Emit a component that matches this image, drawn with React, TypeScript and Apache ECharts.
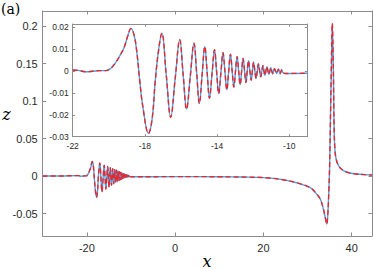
import React, { useEffect, useRef } from "react";
import * as echarts from "echarts";

// ---- tick definitions ----
const mainXTicks = [-20, 0, 20, 40];
const mainZTicks = [-0.05, 0, 0.05, 0.1, 0.15, 0.2];
const mainZTickLabels = ["-0.05", "0", "0.05", "0.1", "0.15", "0.2"];
const insetXTicks = [-22, -18, -14, -10];
const insetZTicks = [-0.03, -0.02, -0.01, 0, 0.01, 0.02];
const insetZTickLabels = ["-0.03", "-0.02", "-0.01", "0", "0.01", "0.02"];

// ---- flat lead-in (main panel only) ----
const leadX = [-30, -26];
const leadZ = [0, 0];

// ---- wave packet (shown in both panels) ----
const packetX = [
  -22, -21.7, -21.3, -20.9, -20.5, -20.15, -19.9, -19.65, -19.4, -19.15, -18.95,
  -18.77, -18.6, -18.45, -18.29, -18.1, -17.8, -17.6, -17.43, -17.25, -17.06,
  -16.815, -16.57, -16.32, -16.07, -15.88, -15.69, -15.485, -15.28, -15.13,
  -14.98, -14.83, -14.68, -14.55, -14.42, -14.28, -14.14, -14.025, -13.91,
  -13.79, -13.67, -13.565, -13.46, -13.36, -13.26, -13.165, -13.07, -12.98,
  -12.89, -12.805, -12.72, -12.64, -12.56, -12.48, -12.4, -12.33, -12.26,
  -12.185, -12.11, -12.045, -11.98, -11.91, -11.84, -11.775, -11.71, -11.645,
  -11.58, -11.52, -11.46, -11.405, -11.35, -11.295, -11.24, -11.185, -11.13,
  -11.075, -11.02, -10.97, -10.92, -10.87, -10.82, -10.765, -10.71, -10.655,
  -10.6, -10.555, -10.51, -10.465, -10.42, -10.35, -10.2, -9.0,
];
const packetZ = [
  0.0005, 0.0003, -0.0003, -0.0001, 0.0002, 0.0002, 0.0012, 0.0035, 0.0068, 0.0108, 0.016,
  0.0195, 0.0165, 0.009, -0.004, -0.017, -0.0285, -0.022, -0.005, 0.009, 0.0173,
  -0.0019, -0.0211, -0.0034, 0.0143, -0.0016, -0.0174, -0.0024, 0.0127, -0.001,
  -0.0148, -0.0018, 0.0112, -0.0007, -0.0125, -0.0014, 0.0097, -0.0003, -0.0103,
  -0.001, 0.0084, -0.0001, -0.0086, -0.0005, 0.0077, 0.0002, -0.0073, -0.0003,
  0.0066, 0.0002, -0.0062, -0.0002, 0.0058, 0.0003, -0.0052, -0.0002, 0.0047,
  0.0002, -0.0042, -0.0001, 0.004, 0.0003, -0.0034, -0.0001, 0.0032, 0.0003,
  -0.0026, -0.0001, 0.0024, 0.0002, -0.002, 0.0, 0.002, 0.0002, -0.0015,
  0.0, 0.0015, 0.0001, -0.0012, -0.0001, 0.0011, 0.0, -0.0011, -0.0001,
  0.0008, -0.0002, -0.0012, -0.0003, 0.0005, -0.0008, -0.0011, -0.001,
];

// ---- tail and solitary wave (main panel only) ----
const tailX = [
  0, 10, 15, 20, 24, 27.5, 30.6, 32.1, 32.9, 33.5, 34.0, 34.34, 34.6, 34.85,
  35.0, 35.2, 35.4, 35.6, 35.85, 36.0, 36.2, 36.5, 37.0, 37.7, 38.5, 39.6, 41, 43, 44.6,
];
const tailZ = [
  -0.0008, -0.001, -0.0014, -0.0021, -0.0045, -0.009, -0.0155, -0.0244, -0.031, -0.042, -0.055, -0.064, -0.05, -0.015,
  0.013, 0.08, 0.147, 0.2035, 0.14, 0.07, 0.035, 0.022, 0.014, 0.009, 0.006, 0.004, 0.0027, 0.0018, 0.0013,
];

const BLUE = "#4ba4e0";
const RED = "#e8262f";
const AXIS = "#8c8c8c";
const TXT = "#2a2a2a";
const FONT = "Liberation Sans";
const SERIF = "DejaVu Serif";

function pick(labels: string[], ticks: number[], v: number) {
  let best = 0;
  for (let i = 1; i < ticks.length; i++) {
    if (Math.abs(ticks[i] - v) < Math.abs(ticks[best] - v)) best = i;
  }
  return labels[best];
}

export default function App() {
  const ref = useRef<HTMLDivElement>(null);
  useEffect(() => {
    if (!ref.current) return;
    const chart = echarts.init(ref.current, null, { renderer: "svg" });

    const packet = packetX.map((x, i) => [x, packetZ[i]]);
    const main = [
      ...leadX.map((x, i) => [x, leadZ[i]]),
      ...packet,
      ...tailX.map((x, i) => [x, tailZ[i]]),
    ];

    const axisCommon = (grid: number, ticks: number[], len: number) => ({
      gridIndex: grid,
      type: "value" as const,
      axisLine: { show: true, onZero: false, lineStyle: { color: AXIS, width: 1 } },
      axisTick: { show: true, inside: true, length: len, customValues: ticks, lineStyle: { color: AXIS } },
      splitLine: { show: false },
    });

    const option: any = {
      animation: false,
      grid: [
        { left: 42.7, top: 11, width: 329.3, height: 225, show: false },
        {
          left: 72.7, top: 24, width: 234.6, height: 112.7, show: true,
          backgroundColor: "#ffffff", borderWidth: 0, z: 5,
        },
      ],
      xAxis: [
        {
          ...axisCommon(0, mainXTicks, 3.5), min: -30, max: 44.6, position: "bottom",
          axisLabel: { customValues: mainXTicks, color: TXT, fontFamily: FONT, fontSize: 11, margin: 6 },
        },
        {
          ...axisCommon(0, mainXTicks, 3.5), min: -30, max: 44.6, position: "top",
          axisLabel: { show: false },
        },
        {
          ...axisCommon(1, insetXTicks, 2.5), min: -22, max: -9, position: "bottom", z: 6,
          axisLabel: { customValues: insetXTicks, color: TXT, fontFamily: FONT, fontSize: 8.5, margin: 5 },
        },
        {
          ...axisCommon(1, insetXTicks, 2.5), min: -22, max: -9, position: "top", z: 6,
          axisLabel: { show: false },
        },
      ],
      yAxis: [
        {
          ...axisCommon(0, mainZTicks, 3.5), min: -0.08, max: 0.22, position: "left",
          axisLabel: {
            customValues: mainZTicks, color: TXT, fontFamily: FONT, fontSize: 11, margin: 5,
            formatter: (v: number) => pick(mainZTickLabels, mainZTicks, v),
          },
        },
        {
          ...axisCommon(0, mainZTicks, 3.5), min: -0.08, max: 0.22, position: "right",
          axisLabel: { show: false },
        },
        {
          ...axisCommon(1, insetZTicks, 2.5), min: -0.03, max: 0.0215, position: "left", z: 6,
          axisLabel: {
            customValues: insetZTicks, color: TXT, fontFamily: FONT, fontSize: 8.5, margin: 4,
            formatter: (v: number) => pick(insetZTickLabels, insetZTicks, v),
          },
        },
        {
          ...axisCommon(1, insetZTicks, 2.5), min: -0.03, max: 0.0215, position: "right", z: 6,
          axisLabel: { show: false },
        },
      ],
      series: [
        {
          type: "line", xAxisIndex: 0, yAxisIndex: 0, data: main, showSymbol: false, smooth: 0.4,
          lineStyle: { color: BLUE, width: 1.4 }, z: 2,
        },
        {
          type: "line", xAxisIndex: 0, yAxisIndex: 0, data: main, showSymbol: false, smooth: 0.4,
          lineStyle: { color: RED, width: 1.4, type: [5, 3] }, z: 3,
        },
        {
          type: "line", xAxisIndex: 2, yAxisIndex: 2, data: packet, showSymbol: false, smooth: 0.4,
          lineStyle: { color: BLUE, width: 1.4 }, z: 7,
        },
        {
          type: "line", xAxisIndex: 2, yAxisIndex: 2, data: packet, showSymbol: false, smooth: 0.4,
          lineStyle: { color: RED, width: 1.4, type: [5, 3] }, z: 8,
        },
      ],
      graphic: [
        {
          type: "text", x: 1, y: 2, z: 10,
          style: { text: "(a)", font: "14px DejaVu Serif", fill: "#000" },
        },
        {
          type: "text", x: 6.5, y: 114.5, z: 10,
          style: {
            text: "z", font: "italic 16px DejaVu Serif", fill: "#000",
            align: "center", verticalAlign: "middle",
          },
        },
        {
          type: "text", x: 207, y: 261, z: 10,
          style: {
            text: "x", font: "italic 16px DejaVu Serif", fill: "#000",
            align: "center", verticalAlign: "middle",
          },
        },
      ],
    };
    chart.setOption(option);
    return () => chart.dispose();
  }, []);
  return (
    <div
      ref={ref}
      style={{ position: "fixed", left: 0, top: 0, width: 374, height: 269, background: "#fff" }}
    />
  );
}
